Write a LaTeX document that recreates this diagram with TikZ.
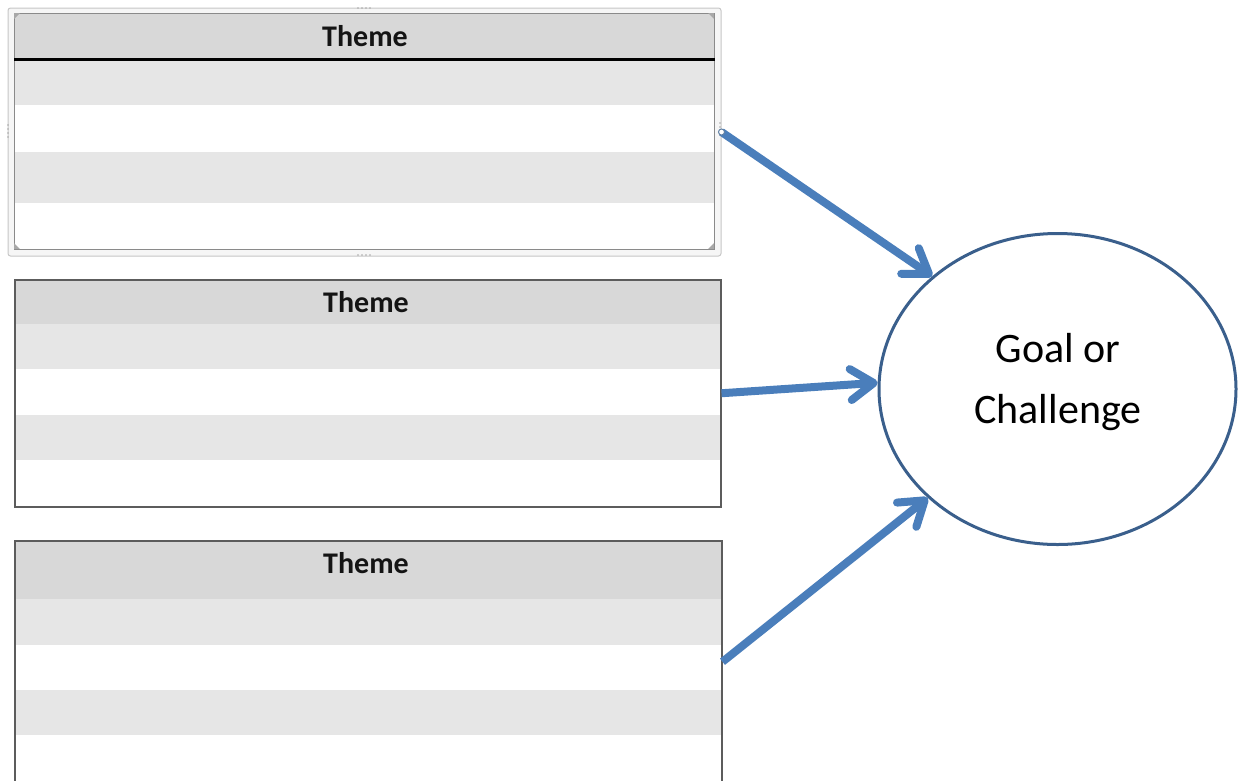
\documentclass[tikz,border=0pt]{standalone}
\usepackage{fontspec}
\setmainfont{Carlito}
\usetikzlibrary{shapes.geometric,arrows.meta}

\definecolor{hdr}{HTML}{D8D8D8}
\definecolor{band}{HTML}{E6E6E6}
\definecolor{rule}{HTML}{5C5C5C}
\definecolor{softrule}{HTML}{8A8A8A}
\definecolor{flow}{HTML}{4A7EBB}
\definecolor{ring}{HTML}{3A5F8C}
\definecolor{selframe}{HTML}{C6C6C6}
\definecolor{selfill}{HTML}{F6F6F6}
\definecolor{handlecol}{HTML}{A8A8A8}

\begin{document}
\begin{tikzpicture}[x=1pt,y=-1pt,
  tbl/.style={rectangle, draw=rule, line width=1.5pt, inner sep=0pt, anchor=north west},
  seltbl/.style={rectangle, draw=softrule, line width=1.2pt, inner sep=0pt, anchor=north west},
  selbox/.style={rectangle, draw=selframe, fill=selfill, line width=1pt, rounded corners=2.5pt, inner sep=0pt, anchor=north west},
  theme/.style={font=\fontsize{30}{31}\selectfont\bfseries, text=black!92, inner sep=0pt},
  goaltxt/.style={font=\fontsize{42}{61}\selectfont, align=center, inner sep=0pt},
  flowarrow/.style={draw=flow, line width=8pt, -{Straight Barb[length=23pt,width=31pt,round]}},
  hdot/.style={circle, fill=handlecol, inner sep=0pt, minimum size=1.8pt},
]
\useasboundingbox (0,0) rectangle (1239,780);

% ---------- top table (selected) ----------
\node[selbox, minimum width=713pt, minimum height=248pt] (f1) at (7.5,7.5) {};
\fill[hdr]  (14,13)  rectangle (714,59);
\fill[band] (14,60)  rectangle (714,105);
\fill[white](14,105) rectangle (714,152);
\fill[band] (14,152) rectangle (714,203);
\fill[white](14,203) rectangle (714,249);
\node[seltbl, minimum width=700pt, minimum height=236pt] (t1) at (14,13) {};
\draw[black, line width=2.5pt] (t1.north west |- 0,59.5) -- (t1.north east |- 0,59.5);
\node[theme] (h1) at (365,36) {Theme};
% selection handles
\foreach \x in {358,362,366,370} \node[hdot] at (\x,8) {};
\foreach \x in {358,362,366,370} \node[hdot] at (\x,255) {};
\foreach \y in {125,129,133,137} \node[hdot] at (8,\y) {};
\foreach \y in {123,127,131,135} \node[hdot] at (720,\y) {};
% corner marks
\foreach \cx/\cy/\sx/\sy in {14/13/1/1, 714/13/-1/1, 14/249/1/-1, 714/249/-1/-1}
  \fill[handlecol] (\cx,\cy) -- ++(6*\sx,0) -- ++(-6*\sx,6*\sy) -- cycle;

% ---------- middle table ----------
\fill[hdr]  (14,279) rectangle (720,324);
\fill[band] (14,324) rectangle (720,369);
\fill[white](14,369) rectangle (720,415);
\fill[band] (14,415) rectangle (720,460);
\fill[white](14,460) rectangle (720,506);
\node[tbl, minimum width=706pt, minimum height=227pt] (t2) at (14,279) {};
\node[theme] (h2) at (366,302) {Theme};

% ---------- bottom table ----------
\fill[hdr]  (14,540) rectangle (721,599);
\fill[band] (14,599) rectangle (721,645);
\fill[white](14,645) rectangle (721,690);
\fill[band] (14,690) rectangle (721,735);
\fill[white](14,735) rectangle (721,782);
\node[tbl, minimum width=707pt, minimum height=242pt] (t3) at (14,540) {};
\node[theme] (h3) at (366,563) {Theme};

% ---------- goal ----------
\node[ellipse, draw=ring, line width=3pt, minimum width=357pt, minimum height=311pt, inner sep=0pt] (goal) at (1057.5,389) {};
\node[goaltxt] (goaltext) at (1058,382) {Goal or\\Challenge};

% ---------- connectors ----------
\draw[flowarrow] (f1.east) -- (goal.138);
\draw[flowarrow] (t2.east) -- (goal.178);
\draw[flowarrow] (t3.east) -- (goal.220);
\node[circle, draw=flow!60!gray, fill=white, line width=1pt, inner sep=0pt, minimum size=6pt] (glue) at (f1.east) {};
\end{tikzpicture}
\end{document}
